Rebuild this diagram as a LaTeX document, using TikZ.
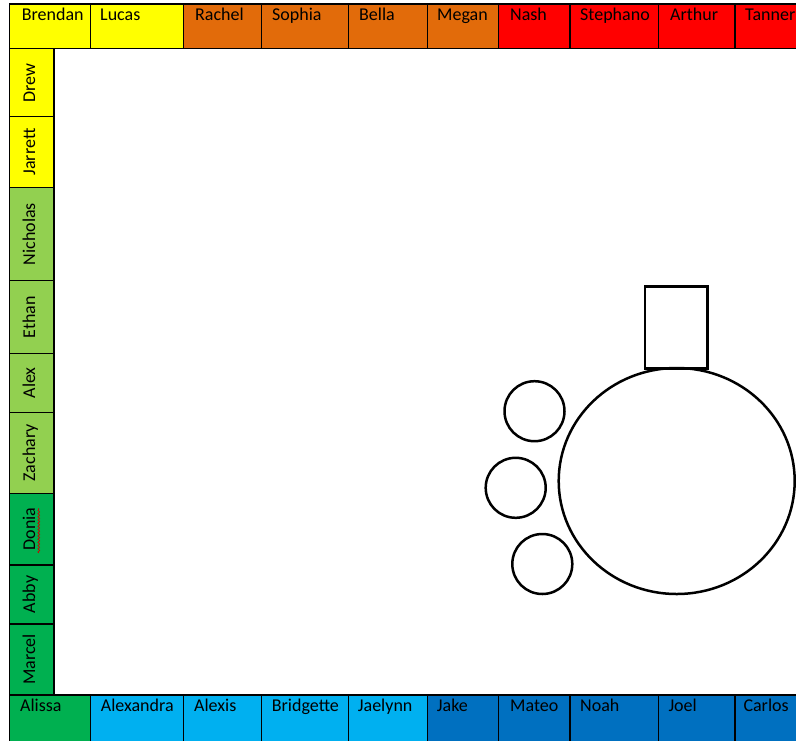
\documentclass[tikz,border=0pt]{standalone}
\usepackage{fontspec}
\setmainfont{Carlito}
\usetikzlibrary{decorations.pathmorphing}
\definecolor{cyellow}{HTML}{FFFF00}
\definecolor{corange}{HTML}{E26B0A}
\definecolor{cred}{HTML}{FF0000}
\definecolor{clgreen}{HTML}{92D050}
\definecolor{cgreen}{HTML}{00B050}
\definecolor{clblue}{HTML}{00B0F0}
\definecolor{cblue}{HTML}{0070C0}
\tikzset{
  cellbox/.style={draw=black, line width=1.2pt},
  nametxt/.style={inner sep=0pt, font=\fontsize{18}{20}\selectfont, text=black},
  shapeline/.style={draw=black, line width=2.5pt}
}
\begin{document}
\begin{tikzpicture}[x=1pt, y=-1pt]
\useasboundingbox (0,0) rectangle (796,740);
\clip (0,0) rectangle (796,740);
\fill[white] (0,0) rectangle (796,740);
% top row
\foreach \a/\b/\t/\n/\c in {
  9.5/90.7/21.7/Brendan/cyellow,
  90.7/183.5/100/Lucas/cyellow,
  183.5/261.7/195/Rachel/corange,
  261.7/348.7/272/Sophia/corange,
  348.7/427.3/359/Bella/corange,
  427.3/498.3/437/Megan/corange,
  498.3/570/510/Nash/cred,
  570/658.3/580/Stephano/cred,
  658.3/735/670/Arthur/cred,
  735/810/745/Tanner/cred}{
  \draw[cellbox, fill=\c] (\a,4) rectangle (\b,48.7);
  \node[nametxt, anchor=base west] (top-\n) at (\t,20) {\n};
}
% left column
\foreach \a/\b/\n/\c in {
  48.7/116.7/Drew/cyellow,
  116.7/187.3/Jarrett/cyellow,
  187.3/280.7/Nicholas/clgreen,
  280.7/353.3/Ethan/clgreen,
  353.3/412.3/Alex/clgreen,
  412.3/493.3/Zachary/clgreen,
  493.3/565/Donia/cgreen,
  565/624/Abby/cgreen,
  624/695/Marcel/cgreen}{
  \draw[cellbox, fill=\c] (9.5,\a) rectangle (54,\b);
  \node[nametxt, anchor=base, rotate=90] (left-\n) at (35,{(\a+\b)/2}) {\n};
}
% spell-check squiggle under Donia
\draw[red!80!black, line width=0.7pt, decorate, decoration={snake, amplitude=0.9pt, segment length=3.2pt}] (38.8,553) -- (38.8,508);
% bottom row
\foreach \a/\b/\t/\n/\c in {
  9.5/90.7/20/Alissa/cgreen,
  90.7/183.3/100.7/Alexandra/clblue,
  183.3/261.7/194/Alexis/clblue,
  261.7/348.3/271.7/Bridgette/clblue,
  348.3/427.3/357.7/Jaelynn/clblue,
  427.3/498.3/436.7/Jake/cblue,
  498.3/570/510/Mateo/cblue,
  570/658.3/580/Noah/cblue,
  658.3/735/668.3/Joel/cblue,
  735/810/743.3/Carlos/cblue}{
  \draw[cellbox, fill=\c] (\a,695) rectangle (\b,750);
  \node[nametxt, anchor=base west] (bot-\n) at (\t,711.7) {\n};
}
% shapes
\draw[shapeline] (645,286.7) rectangle (707.7,368.3);
\draw[shapeline] (676.7,481) ellipse [x radius=118pt, y radius=113pt];
\draw[shapeline] (534.5,411.2) circle [radius=30pt];
\draw[shapeline] (515.7,487.8) circle [radius=30pt];
\draw[shapeline] (542.3,564) circle [radius=30pt];
\end{tikzpicture}
\end{document}
